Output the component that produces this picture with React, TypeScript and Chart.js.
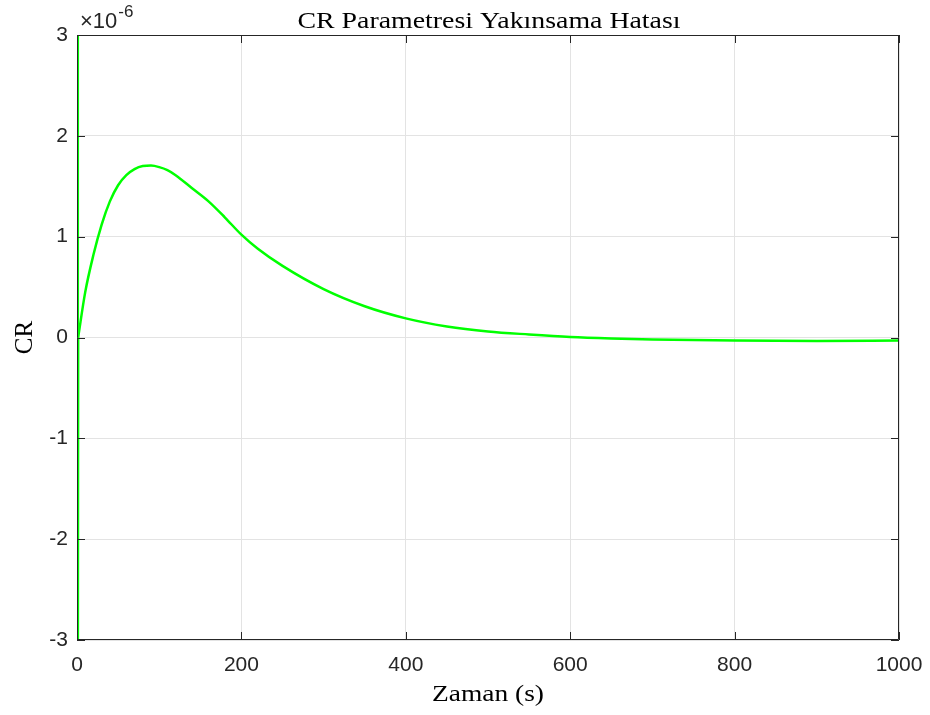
import React, { useEffect, useRef } from 'react';
import { Chart, registerables } from 'chart.js';
Chart.register(...registerables);

const chartTitle = 'CR Parametresi Yakınsama Hatası';
const xAxisTitle = 'Zaman (s)';
const yAxisTitle = 'CR';
// initial transient spike (values in units of 1e-6)
const spikeTimes = [0.6, 1.0, 1.4];
const spikeValues = [3.6, -3.6, 0];
// convergence curve (values in units of 1e-6)
const timeValues = [1.4, 10, 20, 30, 40, 50, 60, 70, 80, 90, 100, 110, 120, 140, 160, 180, 200, 220, 250, 300, 350, 400, 450, 500, 550, 600, 650, 700, 800, 900, 1000];
const crValues = [0, 0.45, 0.82, 1.12, 1.35, 1.51, 1.61, 1.67, 1.70, 1.705, 1.69, 1.66, 1.61, 1.48, 1.35, 1.19, 1.02, 0.88, 0.71, 0.48, 0.31, 0.19, 0.11, 0.06, 0.03, 0.005, -0.01, -0.02, -0.03, -0.035, -0.03];
const xTicks = [0, 200, 400, 600, 800, 1000];
const yTicks = [-3, -2, -1, 0, 1, 2, 3];

function fitText(ctx: CanvasRenderingContext2D, text: string, cx: number, y: number, width: number) {
  const w = ctx.measureText(text).width;
  ctx.save();
  ctx.translate(cx, y);
  ctx.scale(width / w, 1);
  ctx.textAlign = 'center';
  ctx.fillText(text, 0, 0);
  ctx.restore();
}

const decorPlugin = {
  id: 'decor',
  afterDraw(chart: any) {
    const { ctx, chartArea: a } = chart;
    const xs = chart.scales.x;
    const ys = chart.scales.y;
    ctx.save();
    ctx.strokeStyle = '#262626';
    ctx.lineWidth = 1;
    ctx.beginPath();
    ctx.rect(a.left + 0.5, a.top + 0.5, a.right - a.left - 1, a.bottom - a.top - 1);
    ctx.stroke();
    const tl = 8;
    ctx.beginPath();
    xTicks.forEach((t) => {
      const px = Math.round(xs.getPixelForValue(t)) + 0.5;
      ctx.moveTo(px, a.bottom); ctx.lineTo(px, a.bottom - tl);
      ctx.moveTo(px, a.top); ctx.lineTo(px, a.top + tl);
    });
    yTicks.forEach((t) => {
      const py = Math.round(ys.getPixelForValue(t)) + 0.5;
      ctx.moveTo(a.left, py); ctx.lineTo(a.left + tl, py);
      ctx.moveTo(a.right, py); ctx.lineTo(a.right - tl, py);
    });
    ctx.stroke();
    ctx.fillStyle = '#000';
    ctx.textBaseline = 'alphabetic';
    ctx.font = '24px "Liberation Serif"';
    fitText(ctx, chartTitle, 489, 28, 383);
    ctx.font = '23px "Liberation Serif"';
    fitText(ctx, xAxisTitle, 488, 701, 112);
    ctx.save();
    ctx.translate(32, (a.top + a.bottom) / 2);
    ctx.rotate(-Math.PI / 2);
    ctx.font = '25px "Liberation Serif"';
    ctx.textAlign = 'center';
    ctx.fillText(yAxisTitle, 0, 0);
    ctx.restore();
    ctx.fillStyle = '#262626';
    ctx.textAlign = 'left';
    ctx.font = '22px "Liberation Sans"';
    ctx.fillText('\u00d710', 80, 28);
    const w = ctx.measureText('\u00d710').width;
    ctx.font = '17px "Liberation Sans"';
    ctx.fillText('-6', 80 + w + 1, 17);
    ctx.restore();
  },
};

export default function App() {
  const ref = useRef<HTMLCanvasElement>(null);
  useEffect(() => {
    document.body.style.margin = '0';
    const chart = new Chart(ref.current as HTMLCanvasElement, {
      type: 'line',
      data: {
        datasets: [
          {
            data: spikeTimes.map((t, i) => ({ x: t, y: spikeValues[i] })),
            borderColor: '#00ff00',
            borderWidth: 2.5,
            pointRadius: 0,
            tension: 0,
            fill: false,
          },
          {
            data: timeValues.map((t, i) => ({ x: t, y: crValues[i] })),
            borderColor: '#00ff00',
            borderWidth: 2.5,
            pointRadius: 0,
            cubicInterpolationMode: 'monotone',
            fill: false,
          },
        ],
      },
      options: {
        animation: false,
        responsive: false,
        devicePixelRatio: 1,
        layout: { padding: { top: 35, right: 31, left: 0, bottom: 0 } },
        plugins: { legend: { display: false }, title: { display: false }, tooltip: { enabled: false } },
        scales: {
          x: {
            type: 'linear', min: 0, max: 1000,
            afterBuildTicks: (s: any) => { s.ticks = xTicks.map((v) => ({ value: v })); },
            afterFit: (s: any) => { s.height = 75; s.paddingLeft = 0; s.paddingRight = 0; },
            grid: { color: '#e3e3e3', drawTicks: false },
            border: { display: false },
            ticks: { padding: 13, color: '#262626', font: { family: '"Liberation Sans"', size: 21 }, maxRotation: 0, callback: (v: any) => String(v) },
          },
          y: {
            type: 'linear', min: -3, max: 3,
            afterBuildTicks: (s: any) => { s.ticks = yTicks.map((v) => ({ value: v })); },
            afterFit: (s: any) => { s.width = 77; s.paddingTop = 0; s.paddingBottom = 0; },
            grid: { color: '#e3e3e3', drawTicks: false },
            border: { display: false },
            ticks: { padding: 9, color: '#262626', font: { family: '"Liberation Sans"', size: 21 }, callback: (v: any) => String(v) },
          },
        },
      },
      plugins: [decorPlugin],
    });
    return () => chart.destroy();
  }, []);
  return (
    <div style={{ width: 930, height: 715 }}>
      <canvas ref={ref} width={930} height={715} style={{ display: 'block' }} />
    </div>
  );
}
